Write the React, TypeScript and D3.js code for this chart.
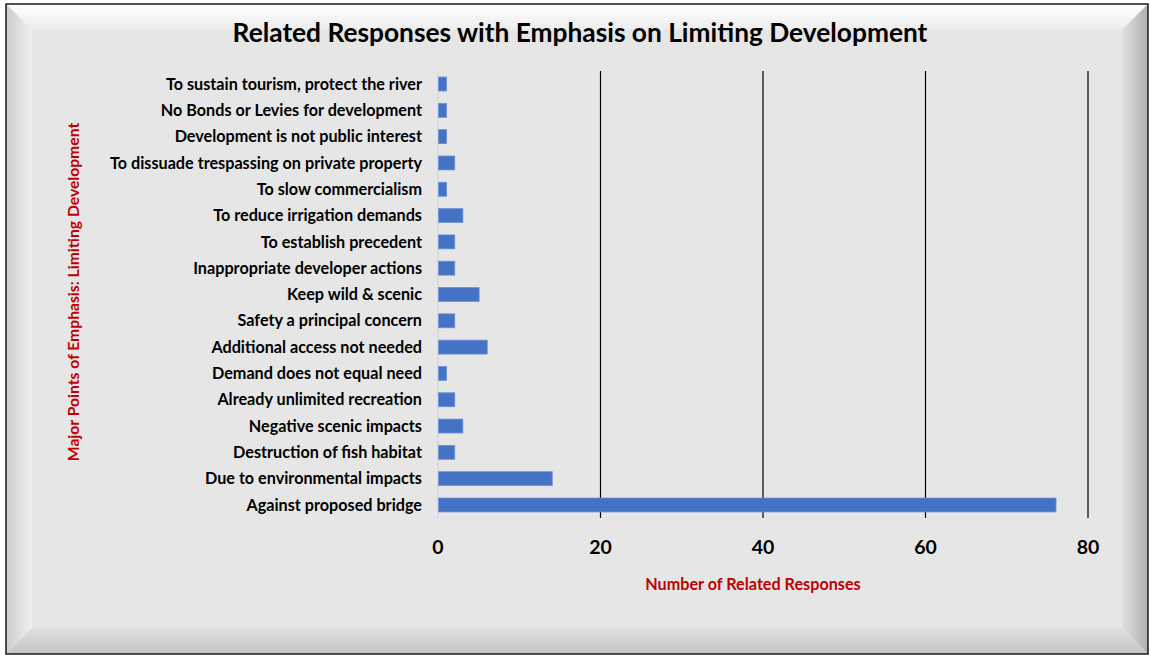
import { useEffect, useRef } from 'react';
import * as d3 from 'd3';

const categories = [
  "To sustain tourism, protect the river",
  "No Bonds or Levies for development",
  "Development is not public interest",
  "To dissuade trespassing on private property",
  "To slow commercialism",
  "To reduce irrigation demands",
  "To establish precedent",
  "Inappropriate developer actions",
  "Keep wild & scenic",
  "Safety a principal concern",
  "Additional access not needed",
  "Demand does not equal need",
  "Already unlimited recreation",
  "Negative scenic impacts",
  "Destruction of fish habitat",
  "Due to environmental impacts",
  "Against proposed bridge",
];
const responses = [1, 1, 1, 2, 1, 3, 2, 2, 5, 2, 6, 1, 2, 3, 2, 14, 76];
const xTicks = [0, 20, 40, 60, 80];

const W = 1150;
const H = 655;
const FONT = "Lato, Carlito, 'Open Sans', sans-serif";

export default function App() {
  const svgRef = useRef<SVGSVGElement>(null);

  useEffect(() => {
    if (!svgRef.current) return;
    const svg = d3.select(svgRef.current);
    svg.selectAll("*").remove();
    svg.attr("width", W).attr("height", H).attr("viewBox", `0 0 ${W} ${H}`);

    // frame geometry
    const fx0 = 6, fy0 = 4, fx1 = 1148, fy1 = 654, bev = 26;
    const defs = svg.append("defs");
    const grad = (id: string, x1: number, y1: number, x2: number, y2: number, c1: string, c2: string) => {
      const g = defs.append("linearGradient").attr("id", id)
        .attr("x1", x1).attr("y1", y1).attr("x2", x2).attr("y2", y2);
      g.append("stop").attr("offset", "0%").attr("stop-color", c1);
      g.append("stop").attr("offset", "100%").attr("stop-color", c2);
    };
    grad("gTop", 0, 0, 0, 1, "#ffffff", "#ececec");
    grad("gLeft", 0, 0, 1, 0, "#cccccc", "#f0f0f0");
    grad("gRight", 0, 0, 1, 0, "#e0e0e0", "#b0b0b0");
    grad("gBot", 0, 0, 0, 1, "#e0e0e0", "#c4c4c4");

    svg.append("rect").attr("width", W).attr("height", H).attr("fill", "#ffffff");
    svg.append("rect").attr("x", fx0).attr("y", fy0).attr("width", fx1 - fx0).attr("height", fy1 - fy0)
      .attr("fill", "#e6e6e6");
    const poly = (pts: number[][], fill: string) =>
      svg.append("polygon").attr("points", pts.map(p => p.join(",")).join(" ")).attr("fill", fill);
    poly([[fx0, fy0], [fx1, fy0], [fx1 - bev, fy0 + bev], [fx0 + bev, fy0 + bev]], "url(#gTop)");
    poly([[fx0, fy0], [fx0 + bev, fy0 + bev], [fx0 + bev, fy1 - bev], [fx0, fy1]], "url(#gLeft)");
    poly([[fx1, fy0], [fx1, fy1], [fx1 - bev, fy1 - bev], [fx1 - bev, fy0 + bev]], "url(#gRight)");
    poly([[fx0, fy1], [fx0 + bev, fy1 - bev], [fx1 - bev, fy1 - bev], [fx1, fy1]], "url(#gBot)");
    svg.append("rect").attr("x", fx0).attr("y", fy0).attr("width", fx1 - fx0).attr("height", fy1 - fy0)
      .attr("fill", "none").attr("stroke", "#1a1a1a").attr("stroke-width", 1.5);

    // plot area
    const left = 438, right = 1088, top = 71, bottom = 518;
    const x = d3.scaleLinear().domain([0, 80]).range([left, right]);
    const y = d3.scaleBand<string>().domain(categories).range([top, bottom]).paddingInner(0.47).paddingOuter(0.23);

    svg.append("g").selectAll("line").data(xTicks.filter(t => t > 0)).enter().append("line")
      .attr("x1", d => x(d)).attr("x2", d => x(d))
      .attr("y1", top).attr("y2", bottom)
      .attr("stroke", "#000").attr("stroke-width", 1.2);

    svg.append("line").attr("x1", left).attr("x2", left).attr("y1", top).attr("y2", bottom)
      .attr("stroke", "#d4d4d4").attr("stroke-width", 1.2);

    svg.append("g").selectAll("rect").data(responses).enter().append("rect")
      .attr("x", left + 0.5)
      .attr("y", (_, i) => y(categories[i])!)
      .attr("width", d => x(d) - left)
      .attr("height", y.bandwidth())
      .attr("fill", "#4472c4")
      .attr("stroke", "#6f93d4").attr("stroke-width", 0.8);

    svg.append("g").selectAll("text").data(categories).enter().append("text")
      .attr("x", 422)
      .attr("y", d => y(d)! + y.bandwidth() / 2)
      .attr("dy", "0.35em")
      .attr("text-anchor", "end")
      .style("font-family", FONT).style("font-weight", "bold").style("font-size", "16.2px")
      .style("fill", "#000")
      .text(d => d);

    svg.append("g").selectAll("text").data(xTicks).enter().append("text")
      .attr("x", d => x(d)).attr("y", 554)
      .attr("text-anchor", "middle")
      .style("font-family", FONT).style("font-weight", "bold").style("font-size", "19.5px")
      .style("fill", "#000")
      .text(d => d);

    svg.append("text").attr("x", 580).attr("y", 42).attr("text-anchor", "middle")
      .style("font-family", FONT).style("font-weight", "bold").style("font-size", "26.3px")
      .style("fill", "#000")
      .text("Related Responses with Emphasis on Limiting Development");

    svg.append("text").attr("x", 753).attr("y", 590).attr("text-anchor", "middle")
      .style("font-family", FONT).style("font-weight", "bold").style("font-size", "16.2px")
      .style("fill", "#c00000")
      .text("Number of Related Responses");

    svg.append("text").attr("transform", "translate(79,292) rotate(-90)").attr("text-anchor", "middle")
      .style("font-family", FONT).style("font-weight", "bold").style("font-size", "15.7px")
      .style("fill", "#c00000")
      .text("Major Points of Emphasis: Limiting Development");
  }, []);

  return (
    <div style={{ position: "absolute", left: 0, top: 0 }}>
      <svg ref={svgRef} style={{ display: "block" }} />
    </div>
  );
}
